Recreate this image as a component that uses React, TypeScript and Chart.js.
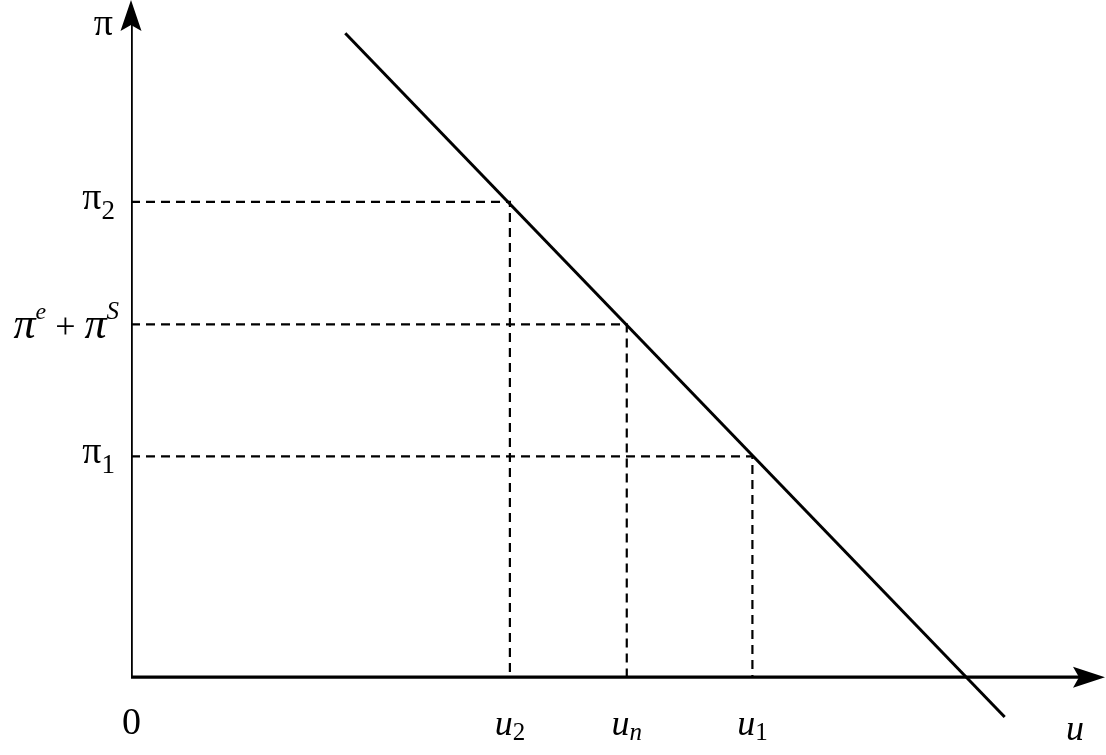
import React, { useEffect, useRef } from "react";
import { Chart, registerables } from "chart.js";
Chart.register(...registerables);

// Scale ranges (u on x, π on y)
const uRange = [0, 100];
const piRange = [-11.5, 100];

// Phillips curve end points
const curveU = [22.0, 89.7];
const curvePi = [95.1, -5.9];

// Reference levels: π2, πe+πS, π1 and matching u2, un, u1
const levelPi = [70.2, 52.1, 32.6];
const levelU = [38.9, 50.9, 63.8];

// Tick labels
const uTickBase = ["u", "u", "u"];
const uTickSub = ["2", "n", "1"];
const piTickSub = ["2", null, "1"];
const axisNameX = "u";
const axisNameY = "π";
const originLabel = "0";

const SERIF = '"Liberation Serif", "Times New Roman", serif';

type Part = { t: string; size: number; it?: boolean; dy?: number };

function drawRich(ctx: CanvasRenderingContext2D, parts: Part[], x: number, baseline: number, align: "left" | "right" | "center") {
  const font = (p: Part) => `${p.it ? "italic " : ""}${p.size}px ${SERIF}`;
  let w = 0;
  const ws = parts.map((p) => {
    ctx.font = font(p);
    const m = ctx.measureText(p.t).width;
    w += m;
    return m;
  });
  let cx = align === "right" ? x - w : align === "center" ? x - w / 2 : x;
  ctx.textAlign = "left";
  ctx.textBaseline = "alphabetic";
  ctx.fillStyle = "#000";
  parts.forEach((p, i) => {
    ctx.font = font(p);
    ctx.fillText(p.t, cx, baseline + (p.dy || 0));
    cx += ws[i];
  });
}

const decorPlugin = {
  id: "decor",
  afterDatasetsDraw(chart: any) {
    const ctx: CanvasRenderingContext2D = chart.ctx;
    const xs = chart.scales.x;
    const ys = chart.scales.y;
    const x0 = xs.getPixelForValue(0);
    const y0 = ys.getPixelForValue(0);
    const xEnd = xs.getPixelForValue(uRange[1]);
    const yEnd = ys.getPixelForValue(piRange[1]);
    ctx.save();
    ctx.fillStyle = "#000";
    // y arrow
    ctx.beginPath();
    ctx.moveTo(x0, yEnd);
    ctx.lineTo(x0 - 10.5, yEnd + 31);
    ctx.lineTo(x0, yEnd + 25);
    ctx.lineTo(x0 + 10.5, yEnd + 31);
    ctx.closePath();
    ctx.fill();
    // x arrow
    ctx.beginPath();
    ctx.moveTo(xEnd, y0);
    ctx.lineTo(xEnd - 32, y0 - 10.5);
    ctx.lineTo(xEnd - 26, y0);
    ctx.lineTo(xEnd - 32, y0 + 10.5);
    ctx.closePath();
    ctx.fill();

    // axis names
    drawRich(ctx, [{ t: axisNameY, size: 38 }], x0 - 18, yEnd + 35, "right");
    drawRich(ctx, [{ t: axisNameX, size: 36, it: true }], xEnd - 39, y0 + 63, "left");
    drawRich(ctx, [{ t: originLabel, size: 38 }], x0 + 0.5, y0 + 57, "center");

    // y tick labels
    levelPi.forEach((v, i) => {
      const py = ys.getPixelForValue(v);
      const sub = piTickSub[i];
      if (sub) {
        drawRich(
          ctx,
          [
            { t: "π", size: 38 },
            { t: sub, size: 27, dy: 10 },
          ],
          x0 - 16,
          py + 7,
          "right"
        );
      } else {
        drawRich(
          ctx,
          [
            { t: "π", size: 44, it: true },
            { t: "e", size: 24, it: true, dy: -19 },
            { t: " + ", size: 36 },
            { t: "π", size: 44, it: true },
            { t: "S", size: 25, it: true, dy: -19 },
          ],
          x0 - 12,
          py + 14,
          "right"
        );
      }
    });

    // x tick labels
    levelU.forEach((v, i) => {
      const px = xs.getPixelForValue(v);
      drawRich(
        ctx,
        [
          { t: uTickBase[i], size: 36, it: true },
          { t: uTickSub[i], size: 25, it: uTickSub[i] === "n", dy: 5 },
        ],
        px,
        y0 + 58,
        "center"
      );
    });
    ctx.restore();
  },
};

export default function App() {
  const ref = useRef<HTMLCanvasElement | null>(null);
  useEffect(() => {
    if (!ref.current) return;
    const dashed = levelPi.map((p, i) => ({
      data: [
        { x: 0, y: p },
        { x: levelU[i], y: p },
        { x: levelU[i], y: 0 },
      ],
      borderColor: "#000",
      borderWidth: 2.2,
      borderDash: [9, 6],
      pointRadius: 0,
      showLine: true,
      fill: false,
      tension: 0,
    }));
    const chart = new Chart(ref.current, {
      type: "scatter",
      data: {
        datasets: [
          ...dashed,
          {
            data: curveU.map((u, i) => ({ x: u, y: curvePi[i] })),
            borderColor: "#000",
            borderWidth: 3,
            pointRadius: 0,
            showLine: true,
            fill: false,
          },
          {
            data: [
              { x: 0, y: 0 },
              { x: uRange[1] - 2.5, y: 0 },
            ],
            borderColor: "#000",
            borderWidth: 3.4,
            pointRadius: 0,
            showLine: true,
            fill: false,
          },
          {
            data: [
              { x: 0, y: 0 },
              { x: 0, y: piRange[1] - 3 },
            ],
            borderColor: "#000",
            borderWidth: 3.6,
            pointRadius: 0,
            showLine: true,
            fill: false,
          },
        ],
      } as any,
      options: {
        responsive: false,
        animation: false,
        layout: { padding: { left: 131, right: 1, top: 0, bottom: 0 } },
        scales: {
          x: { type: "linear", min: uRange[0], max: uRange[1], display: false },
          y: { type: "linear", min: piRange[0], max: piRange[1], display: false },
        },
        plugins: { legend: { display: false }, tooltip: { enabled: false } },
        events: [],
      } as any,
      plugins: [decorPlugin],
    });
    return () => chart.destroy();
  }, []);
  return (
    <div style={{ position: "absolute", left: 0, top: 0, width: 1106, height: 755, background: "#fff" }}>
      <canvas ref={ref} width={1106} height={755} style={{ width: 1106, height: 755, display: "block" }} />
    </div>
  );
}
